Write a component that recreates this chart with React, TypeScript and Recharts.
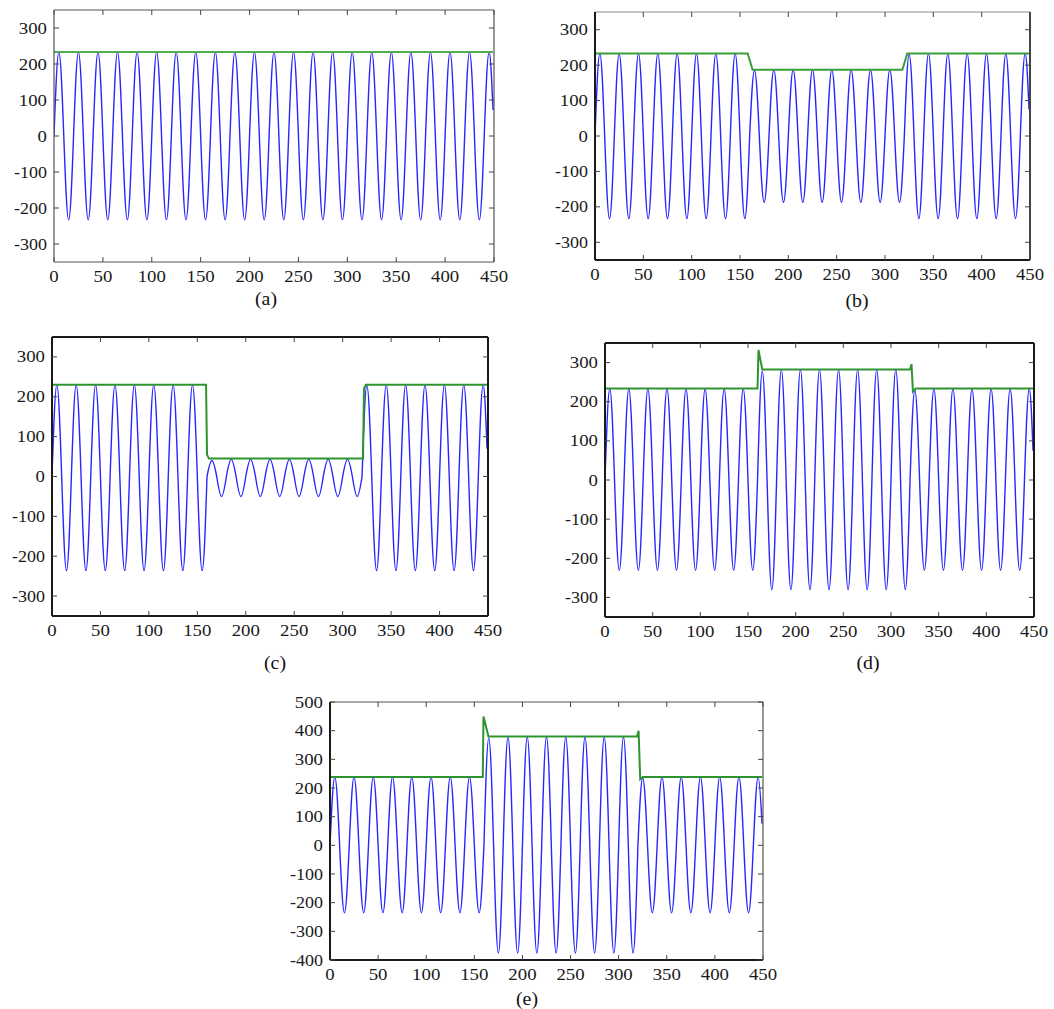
import React from 'react';
import { LineChart, Line, XAxis, YAxis } from 'recharts';

// shared x positions (period 20)
const zeroX = [0, 10, 20, 30, 40, 50, 60, 70, 80, 90, 100, 110, 120, 130, 140, 150, 160, 170, 180, 190, 200, 210, 220, 230, 240, 250, 260, 270, 280, 290, 300, 310, 320, 330, 340, 350, 360, 370, 380, 390, 400, 410, 420, 430, 440];
const peakX = [5, 25, 45, 65, 85, 105, 125, 145, 165, 185, 205, 225, 245, 265, 285, 305, 325, 345, 365, 385, 405, 425, 445];
const troughX = [15, 35, 55, 75, 95, 115, 135, 155, 175, 195, 215, 235, 255, 275, 295, 315, 335, 355, 375, 395, 415, 435];
const endX = 449;

const xTicks = [0, 50, 100, 150, 200, 250, 300, 350, 400, 450];
const yTicks = [-300, -200, -100, 0, 100, 200, 300];
const yTicksE = [-400, -300, -200, -100, 0, 100, 200, 300, 400, 500];

// (a)
const peaksA = [233, 233, 233, 233, 233, 233, 233, 233, 233, 233, 233, 233, 233, 233, 233, 233, 233, 233, 233, 233, 233, 233, 233];
const troughsA = [-233, -233, -233, -233, -233, -233, -233, -233, -233, -233, -233, -233, -233, -233, -233, -233, -233, -233, -233, -233, -233, -233];
const endA = 72;
const greenAX = [0, 449];
const greenAY = [233, 233];

// (b)
const peaksB = [233, 233, 233, 233, 233, 233, 233, 233, 185, 187, 187, 187, 187, 187, 187, 187, 230, 233, 233, 233, 233, 233, 233];
const troughsB = [-233, -233, -233, -233, -233, -233, -233, -233, -187, -187, -187, -187, -187, -187, -187, -187, -233, -233, -233, -233, -233, -233];
const endB = 75;
const greenBX = [0, 158, 163, 318, 323, 449];
const greenBY = [233, 233, 187, 187, 233, 233];

// (c)
const peaksC = [230, 230, 230, 230, 230, 230, 230, 230, 40, 43, 43, 43, 43, 43, 43, 43, 228, 230, 230, 230, 230, 230, 230];
const troughsC = [-236, -236, -236, -236, -236, -236, -236, -236, -50, -50, -50, -50, -50, -50, -50, -50, -236, -236, -236, -236, -236, -236];
const endC = 70;
const greenCX = [0, 159, 160, 162, 321, 322, 324, 449];
const greenCY = [230, 230, 55, 45, 45, 220, 230, 230];

// (d)
const peaksD = [233, 233, 233, 233, 233, 233, 233, 233, 278, 282, 282, 282, 282, 282, 282, 282, 230, 233, 233, 233, 233, 233, 233];
const troughsD = [-231, -231, -231, -231, -231, -231, -231, -231, -280, -280, -280, -280, -280, -280, -280, -280, -231, -231, -231, -231, -231, -231];
const endD = 75;
const greenDX = [0, 160, 161, 165, 320, 321.5, 323, 326, 449];
const greenDY = [234, 234, 332, 282, 282, 296, 226, 234, 234];

// (e)
const peaksE = [238, 238, 238, 238, 238, 238, 238, 238, 375, 378, 378, 378, 378, 378, 378, 378, 235, 238, 238, 238, 238, 238, 238];
const troughsE = [-235, -235, -235, -235, -235, -235, -235, -235, -376, -376, -376, -376, -376, -376, -376, -376, -235, -235, -235, -235, -235, -235];
const endE = 75;
const greenEX = [0, 158.8, 159.5, 164.7, 319, 320.7, 322.4, 325, 449];
const greenEY = [238, 238, 449, 380, 380, 400, 230, 238, 238];

type Pt = { x: number; y: number };

function buildWave(peaks: number[], troughs: number[], end: number): Pt[] {
  const pts: Pt[] = [];
  zeroX.forEach((x) => pts.push({ x, y: 0 }));
  peakX.forEach((x, i) => pts.push({ x, y: peaks[i] }));
  troughX.forEach((x, i) => pts.push({ x, y: troughs[i] }));
  pts.push({ x: endX, y: end });
  return pts.sort((a, b) => a.x - b.x);
}

function buildLine(xs: number[], ys: number[]): Pt[] {
  return xs.map((x, i) => ({ x, y: ys[i] }));
}

// curve drawing quarter-sine shaped segments between the read points
function sineCurve(context: any) {
  let xs: number[] = [];
  let ys: number[] = [];
  return {
    areaStart() {},
    areaEnd() {},
    lineStart() { xs = []; ys = []; },
    point(x: number, y: number) { xs.push(+x); ys.push(+y); },
    lineEnd() {
      const n = xs.length;
      if (!n) return;
      const isExt = (i: number) => i > 0 && i < n - 1 && (ys[i] - ys[i - 1]) * (ys[i + 1] - ys[i]) < 0;
      context.moveTo(xs[0], ys[0]);
      for (let i = 0; i < n - 1; i++) {
        const x0 = xs[i], y0 = ys[i], x1 = xs[i + 1], y1 = ys[i + 1];
        const dx = x1 - x0, dy = y1 - y0;
        const e0 = isExt(i), e1 = isExt(i + 1);
        if (e1 && !e0) context.bezierCurveTo(x0 + 0.3261 * dx, y0 + 0.5123 * dy, x0 + 0.6381 * dx, y1, x1, y1);
        else if (e0 && !e1) context.bezierCurveTo(x0 + 0.3619 * dx, y0, x0 + 0.6739 * dx, y0 + 0.4877 * dy, x1, y1);
        else context.lineTo(x1, y1);
      }
    },
  };
}

const FONT = '"Liberation Serif", "Times New Roman", serif';
const TXT = '#1a1a1a';
const FS = 16;

function labelLen(s: string) {
  let w = 0;
  for (const c of s) w += c === '-' ? 4.8 : 9.4;
  return w;
}

function XTick(props: any) {
  const { x, y, payload } = props;
  const s = String(payload.value);
  return (
    <text x={x} y={y + 11} textAnchor="middle" fill={TXT} fontSize={FS} fontFamily={FONT}
      textLength={labelLen(s)} lengthAdjust="spacingAndGlyphs">{s}</text>
  );
}

function YTick(props: any) {
  const { x, y, payload } = props;
  const s = String(payload.value);
  return (
    <text x={x} y={y + 5.5} textAnchor="end" fill={TXT} fontSize={FS} fontFamily={FONT}
      textLength={labelLen(s)} lengthAdjust="spacingAndGlyphs">{s}</text>
  );
}

type Edge = { c: string; w: number };
type PanelProps = {
  L: number; T: number; R: number; B: number;
  blue: Pt[]; green: Pt[];
  domain: [number, number]; ticks: number[];
  left: Edge; bottom: Edge; top: Edge; right: Edge;
  greenColor: string;
};

function Panel({ L, T, R, B, blue, green, domain, ticks, left, bottom, top, right, greenColor }: PanelProps) {
  const yW = 45;
  const mr = 16;
  const mt = 12;
  const W = R - L + yW + 1 + mr;
  const H = B - T + mt + 1 + 30;
  return (
    <div style={{ position: 'absolute', left: L - yW, top: T - mt - 1 }}>
      <LineChart width={W} height={H} margin={{ top: mt, right: mr, bottom: 0, left: 0 }}>
        <XAxis xAxisId="b" type="number" dataKey="x" domain={[0, 450]} ticks={xTicks} interval={0}
          height={30} tickSize={-5} tickMargin={14} axisLine={{ stroke: bottom.c, strokeWidth: bottom.w }}
          tickLine={{ stroke: '#444', strokeWidth: 1 }} tick={XTick} allowDataOverflow />
        <XAxis xAxisId="t" orientation="top" type="number" dataKey="x" domain={[0, 450]} ticks={xTicks} interval={0}
          height={1} tickSize={-5} axisLine={{ stroke: top.c, strokeWidth: top.w }}
          tickLine={{ stroke: '#444', strokeWidth: 1 }} tickFormatter={() => ''} allowDataOverflow />
        <YAxis yAxisId="l" type="number" domain={domain} ticks={ticks} interval={0} width={yW}
          tickSize={-5} tickMargin={12} axisLine={{ stroke: left.c, strokeWidth: left.w }}
          tickLine={{ stroke: '#444', strokeWidth: 1 }} tick={YTick} allowDataOverflow />
        <YAxis yAxisId="r" orientation="right" type="number" domain={domain} ticks={ticks} interval={0} width={1}
          tickSize={-5} axisLine={{ stroke: right.c, strokeWidth: right.w }}
          tickLine={{ stroke: '#444', strokeWidth: 1 }} tickFormatter={() => ''} allowDataOverflow />
        <Line xAxisId="b" yAxisId="l" data={blue} dataKey="y" type={sineCurve as any} stroke="#2626ff" strokeWidth={1.4}
          dot={false} activeDot={false} isAnimationActive={false} />
        <Line xAxisId="b" yAxisId="l" data={green} dataKey="y" type="linear" stroke={greenColor} strokeWidth={2}
          dot={false} activeDot={false} isAnimationActive={false} />
      </LineChart>
    </div>
  );
}

function Caption({ x, y, text }: { x: number; y: number; text: string }) {
  return (
    <div style={{
      position: 'absolute', left: x, top: y, transform: 'translate(-50%, -50%) scaleX(1.1)',
      fontFamily: FONT, fontSize: 18, color: '#111', whiteSpace: 'nowrap', lineHeight: 1,
    }}>{text}</div>
  );
}

const thinGray: Edge = { c: '#555', w: 1.2 };
const lightGray: Edge = { c: '#888', w: 1 };
const dark: Edge = { c: '#1a1a1a', w: 2 };
const darkGray: Edge = { c: '#444', w: 2 };

export default function App() {
  return (
    <div style={{ position: 'absolute', left: 0, top: 0, width: 1054, height: 1009, background: '#fff', overflow: 'hidden' }}>
      <Panel L={54} T={10} R={494} B={262} blue={buildWave(peaksA, troughsA, endA)} green={buildLine(greenAX, greenAY)}
        domain={[-350, 350]} ticks={yTicks} left={thinGray} bottom={thinGray} top={thinGray} right={thinGray} greenColor="#4fae4f" />
      <Panel L={595} T={12} R={1030} B={260} blue={buildWave(peaksB, troughsB, endB)} green={buildLine(greenBX, greenBY)}
        domain={[-350, 350]} ticks={yTicks} left={dark} bottom={dark} top={lightGray} right={darkGray} greenColor="#3a9e3a" />
      <Panel L={52} T={337} R={488} B={616} blue={buildWave(peaksC, troughsC, endC)} green={buildLine(greenCX, greenCY)}
        domain={[-350, 350]} ticks={yTicks} left={dark} bottom={dark} top={dark} right={dark} greenColor="#2e952e" />
      <Panel L={605} T={343} R={1034} B={617} blue={buildWave(peaksD, troughsD, endD)} green={buildLine(greenDX, greenDY)}
        domain={[-350, 350]} ticks={yTicks} left={dark} bottom={dark} top={dark} right={dark} greenColor="#2e952e" />
      <Panel L={330} T={702} R={763} B={960} blue={buildWave(peaksE, troughsE, endE)} green={buildLine(greenEX, greenEY)}
        domain={[-400, 500]} ticks={yTicksE} left={dark} bottom={dark} top={thinGray} right={thinGray} greenColor="#2e952e" />
      <Caption x={266} y={299} text="(a)" />
      <Caption x={857} y={301} text="(b)" />
      <Caption x={275} y={663} text="(c)" />
      <Caption x={868} y={663} text="(d)" />
      <Caption x={527} y={999} text="(e)" />
    </div>
  );
}
